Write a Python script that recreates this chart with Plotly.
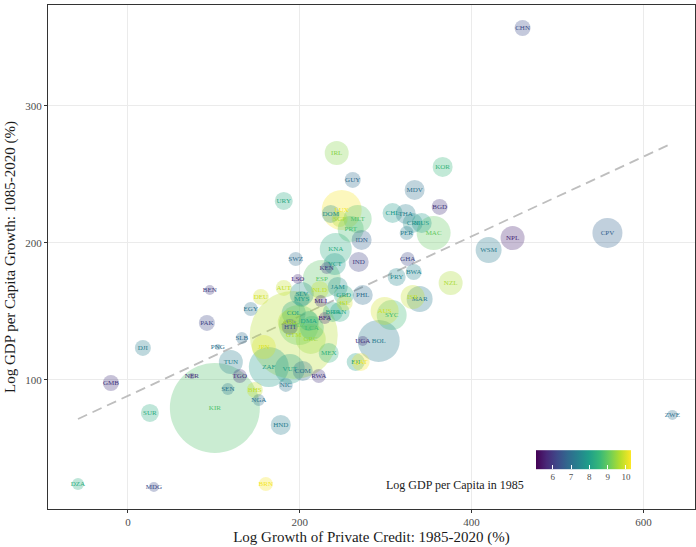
import plotly.graph_objects as go
from plotly.colors import sample_colorscale

# ---------------- data ----------------
countries = ["KIR", "GTM", "ZAF", "BOL", "ESP", "LUX", "MAC", "KNA", "SYC", "AUS", "CPV",
             "MLT", "PRT", "WSM", "MAR", "NPL", "ISR", "NZL", "IRL", "TUN", "SLV",
             "VCT", "KOR", "MDV", "IDN", "IND", "CHL", "THA", "CRI", "MUS", "JAM",
             "GRD", "PHL", "COL", "BRA", "PAN", "MEX", "HND", "URY", "DOM", "PRY",
             "FJI", "QAT", "SUR", "GUY", "CHN", "BGD", "DJI", "GMB", "PAK", "AUT",
             "NLD", "DEU", "ISL", "BWA", "SGP", "PER", "SWZ", "GHA", "EGY", "TGO",
             "NIC", "RWA", "BHS", "BRN", "MYS", "SLB", "SEN", "NGA", "MLI", "BFA",
             "KEN", "DZA", "LSO", "BEN", "UGA", "MDG", "ZWE", "PNG", "NER",
             "BLZ", "GRC", "VUT", "JPN", "ARG", "DMA", "LCA", "HTI", "COM"]

credit_growth = [101.2, 193.0, 164.0, 291.9, 225.6, 248.8, 355.8, 241.9, 307.0, 298.8, 558.1,
                 267.4, 259.3, 419.8, 339.5, 447.7, 331.4, 375.6, 243.0, 119.8, 202.3,
                 240.7, 366.3, 333.7, 272.0, 268.6, 308.0, 323.3, 331.4, 341.9, 244.2,
                 251.2, 273.3, 193.0, 238.4, 246.5, 233.7, 177.9, 181.4, 236.0, 312.8,
                 265.1, 270.9, 25.6, 261.6, 459.3, 362.8, 17.4, -19.8, 91.9, 181.4,
                 223.3, 154.7, 252.3, 332.6, 246.5, 324.4, 195.3, 325.6, 143.0, 130.2,
                 183.7, 222.1, 147.7, 160.5, 202.3, 132.6, 116.3, 152.3, 224.4, 229.1,
                 231.4, -58.1, 197.7, 95.3, 273.3, 30.2, 633.7, 104.7, 74.4,
                 198.8, 212.8, 188.4, 158.1, 188.4, 210.5, 214.0, 188.4, 203.5]

gdp_growth = [79.6, 132.8, 109.5, 128.5, 173.7, 224.1, 207.3, 195.6, 147.4, 150.4, 207.3,
              217.5, 210.2, 194.9, 159.1, 203.6, 160.6, 170.8, 265.7, 113.1, 162.8,
              184.7, 255.5, 238.7, 202.2, 186.1, 221.9, 221.2, 214.6, 214.6, 167.9,
              162.0, 162.0, 148.9, 149.6, 149.6, 119.7, 67.2, 230.7, 221.2, 175.2,
              113.1, 113.1, 75.9, 246.0, 356.9, 226.3, 123.4, 97.8, 141.6, 167.2,
              165.7, 160.6, 156.2, 178.8, 217.5, 207.3, 188.3, 188.3, 151.8, 102.9,
              96.4, 102.9, 92.7, 24.1, 159.1, 130.7, 93.4, 85.4, 157.7, 145.3,
              181.8, 24.1, 173.7, 165.7, 128.5, 21.9, 74.5, 124.1, 102.9,
              140.1, 129.9, 108.0, 124.1, 142.3, 143.1, 138.0, 138.7, 106.6]

gdp_1985 = [8.8, 9.7, 7.9, 7.2, 8.9, 10.2, 9.0, 8.3, 8.6, 9.9, 6.7,
            8.8, 8.7, 7.2, 7.2, 5.6, 9.8, 9.6, 9.3, 7.3, 7.6,
            7.9, 8.5, 7.0, 6.7, 6.1, 7.9, 7.3, 7.6, 7.9, 7.6,
            8.2, 6.9, 8.0, 8.1, 8.2, 8.4, 7.3, 8.2, 7.6, 7.5,
            8.0, 10.2, 8.3, 6.9, 6.3, 5.9, 7.3, 5.9, 6.2, 9.8,
            9.8, 9.9, 9.9, 7.4, 9.6, 7.3, 6.9, 6.2, 7.1, 5.9,
            7.1, 5.9, 9.8, 10.2, 8.0, 6.9, 7.1, 7.0, 5.7, 5.7,
            6.0, 8.3, 5.7, 6.0, 5.8, 6.3, 7.0, 7.0, 5.8,
            9.0, 9.5, 8.0, 10.0, 9.7, 8.1, 8.6, 6.3, 7.0]

bubble_var = [2025, 1936, 400, 441, 361, 400, 289, 256, 225, 196, 225,
              196, 169, 169, 169, 144, 144, 144, 144, 144, 144,
              121, 100, 100, 100, 100, 100, 100, 100, 100, 100,
              100, 100, 144, 100, 100, 100, 100, 81, 81, 81,
              81, 81, 81, 64, 64, 64, 64, 64, 64, 64,
              81, 64, 64, 64, 64, 49, 49, 49, 49, 49,
              49, 49, 64, 49, 64, 36, 36, 36, 36, 36,
              36, 36, 25, 25, 25, 25, 25, 9, 9,
              400, 225, 225, 144, 144, 100, 144, 64, 100]

# fitted dashed trend line
TREND_SLOPE = 0.291
TREND_INTERCEPT = 88.4

CMIN, CMAX = 5.07, 10.27
x_ticks = [0, 200, 400, 600]
y_ticks = [100, 200, 300]

# ---------------- figure ----------------
FONT = "Liberation Serif"
fracs = [(g - CMIN) / (CMAX - CMIN) for g in gdp_1985]
text_colors = sample_colorscale("Viridis", fracs)

fig = go.Figure()

xmin, xmax = min(credit_growth), max(credit_growth)
fig.add_trace(go.Scatter(
    x=[xmin, xmax],
    y=[TREND_INTERCEPT + TREND_SLOPE * xmin, TREND_INTERCEPT + TREND_SLOPE * xmax],
    mode="lines", line=dict(color="#BEBEBE", width=1.8, dash="10px,6px"),
    hoverinfo="skip", showlegend=False))

fig.add_trace(go.Scatter(
    x=credit_growth, y=gdp_growth, mode="markers+text",
    text=countries, textposition="middle center",
    textfont=dict(family=FONT, size=7, color=text_colors),
    marker=dict(size=bubble_var, sizemode="area", sizeref=0.5,
                color=gdp_1985, colorscale="Viridis", cmin=CMIN, cmax=CMAX,
                opacity=0.3, line=dict(width=0),
                colorbar=dict(orientation="h", lenmode="pixels", len=95,
                              thicknessmode="pixels", thickness=19,
                              x=0.754, xanchor="left", y=0.0437, yanchor="bottom",
                              xpad=0, ypad=0, outlinewidth=0,
                              tickvals=[6, 7, 8, 9, 10], ticks="inside",
                              ticklen=4, tickcolor="white", tickwidth=1,
                              tickfont=dict(family=FONT, size=9, color="#4D4D4D"))),
    showlegend=False))

fig.add_annotation(text="Log GDP per Capita in 1985", xref="paper", yref="paper",
                   x=0.739, y=0.047, xanchor="right", yanchor="middle",
                   showarrow=False, font=dict(family=FONT, size=12, color="#1A1A1A"))

axis_common = dict(showgrid=True, gridcolor="#EBEBEB", gridwidth=1, zeroline=False,
                   showline=True, linecolor="#333333", linewidth=1, mirror=True,
                   ticks="outside", ticklen=3, tickcolor="#333333",
                   tickfont=dict(family=FONT, size=11, color="#4D4D4D"))

fig.update_xaxes(range=[-93, 660], tickvals=x_ticks,
                 title=dict(text="Log Growth of Private Credit: 1985-2020 (%)",
                            font=dict(family=FONT, size=15, color="#1A1A1A"), standoff=4),
                 **axis_common)
fig.update_yaxes(range=[5.8, 373.7], tickvals=y_ticks,
                 title=dict(text="Log GDP per Capita Growth: 1085-2020 (%)",
                            font=dict(family=FONT, size=15, color="#1A1A1A"), standoff=6),
                 **axis_common)

fig.update_layout(width=696, height=547, margin=dict(l=48, r=1, t=5, b=38),
                  plot_bgcolor="white", paper_bgcolor="white",
                  font=dict(family=FONT))

fig.write_html("out.html", config={"displayModeBar": False},
               post_script="document.body.style.margin='0';")
